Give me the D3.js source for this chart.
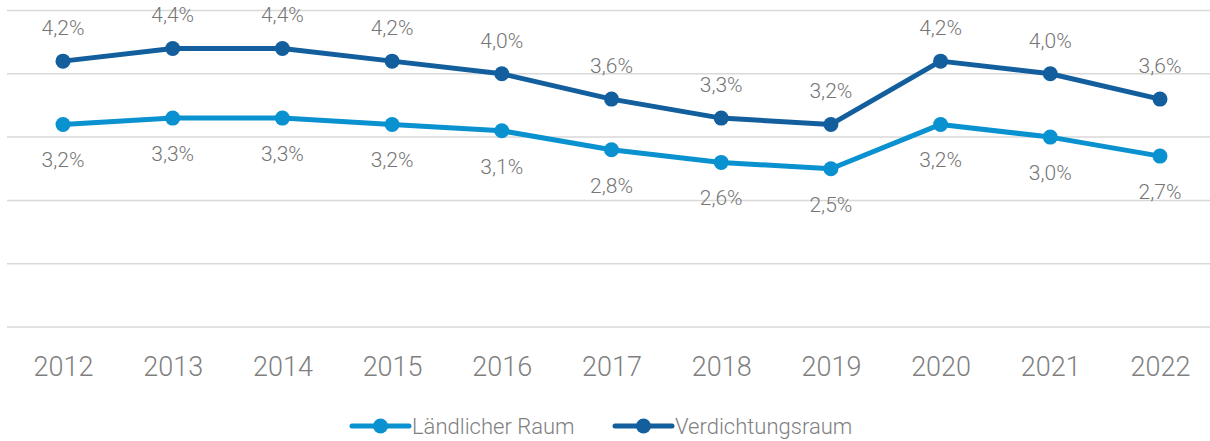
<!DOCTYPE html>
<html>
<head>
<meta charset="utf-8">
<script src="https://cdn.jsdelivr.net/npm/d3@7"></script>
<style>
body { margin: 0; background: #fff; }
text { font-family: Roboto, "Liberation Sans", sans-serif; font-weight: 300; }
</style>
</head>
<body>
<svg id="chart" width="1210" height="441"></svg>
<script>
var years = ["2012","2013","2014","2015","2016","2017","2018","2019","2020","2021","2022"];
var laendlich = [3.2, 3.3, 3.3, 3.2, 3.1, 2.8, 2.6, 2.5, 3.2, 3.0, 2.7];
var verdichtung = [4.2, 4.4, 4.4, 4.2, 4.0, 3.6, 3.3, 3.2, 4.2, 4.0, 3.6];
var yTicks = [0, 1, 2, 3, 4, 5];
var seriesNames = ["Ländlicher Raum", "Verdichtungsraum"];

var svg = d3.select("#chart");

var x = d3.scalePoint().domain(years).range([63, 1160]);
var y = d3.scaleLinear().domain([0, 5]).range([327, 10.5]);

// gridlines
svg.append("g").selectAll("line")
  .data(yTicks)
  .enter().append("line")
    .attr("x1", 7).attr("x2", 1210)
    .attr("y1", function(d){ return y(d); })
    .attr("y2", function(d){ return y(d); })
    .attr("stroke", "#d9d9d9")
    .attr("stroke-width", 1.5);

// x axis
var xAxis = svg.append("g")
  .attr("transform", "translate(0,327)")
  .call(d3.axisBottom(x).tickSize(0).tickPadding(30));
xAxis.select(".domain").remove();
xAxis.selectAll("text")
  .attr("font-size", 27)
  .attr("fill", "#7f7f7f")
  .style("font-family", "Roboto, sans-serif")
  .style("font-weight", 300);

var fmt = function(v){ return v.toFixed(1).replace(".", ",") + "%"; };

var series = [
  { name: seriesNames[0], values: laendlich, color: "#0a91cf", dy: 43 },
  { name: seriesNames[1], values: verdichtung, color: "#135f9d", dy: -26 }
];

var line = d3.line()
  .x(function(d, i){ return x(years[i]); })
  .y(function(d){ return y(d); });

series.forEach(function(s){
  var g = svg.append("g");
  g.append("path")
    .attr("d", line(s.values))
    .attr("fill", "none")
    .attr("stroke", s.color)
    .attr("stroke-width", 5)
    .attr("stroke-linejoin", "round");
  g.selectAll("circle")
    .data(s.values)
    .enter().append("circle")
      .attr("cx", function(d, i){ return x(years[i]); })
      .attr("cy", function(d){ return y(d); })
      .attr("r", 7.5)
      .attr("fill", s.color);
  g.selectAll("text")
    .data(s.values)
    .enter().append("text")
      .attr("x", function(d, i){ return x(years[i]); })
      .attr("y", function(d){ return y(d) + s.dy; })
      .attr("text-anchor", "middle")
      .attr("font-size", 21)
      .attr("fill", "#767676")
      .text(fmt);
});

// legend
var legendX = [352, 615];
series.forEach(function(s, i){
  var lg = svg.append("g").attr("transform", "translate(" + legendX[i] + ",426)");
  lg.append("line")
    .attr("x1", 0).attr("x2", 57)
    .attr("stroke", s.color).attr("stroke-width", 5)
    .attr("stroke-linecap", "round");
  lg.append("circle").attr("cx", 28.5).attr("r", 7.5).attr("fill", s.color);
  lg.append("text")
    .attr("x", 60).attr("y", 8)
    .attr("font-size", 22)
    .attr("fill", "#7f7f7f")
    .text(s.name);
});
</script>
</body>
</html>
